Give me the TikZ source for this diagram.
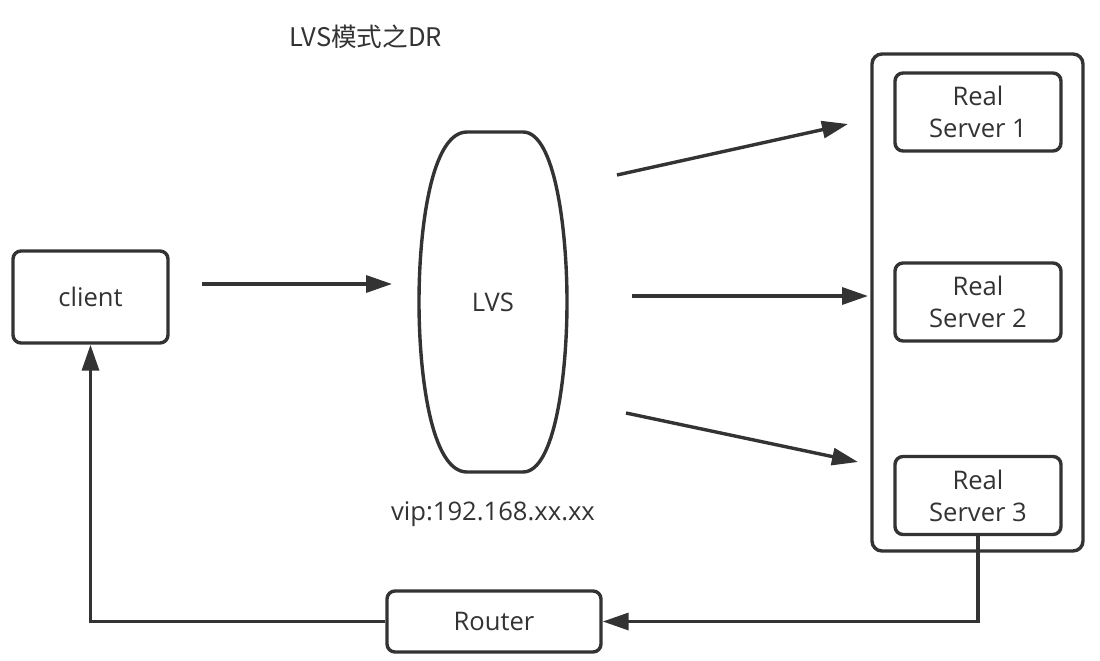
\documentclass[tikz,border=0pt]{standalone}
\usepackage{fontspec}
\setmainfont{Open Sans}
\newfontfamily\cjk{Noto Sans CJK SC}
\usetikzlibrary{arrows.meta}
\definecolor{ink}{HTML}{333333}
\begin{document}
\begin{tikzpicture}[x=1pt,y=-1pt]
\tikzset{
  txt/.style={text=ink, font=\fontsize{25.6}{32}\selectfont, inner sep=0pt, align=center},
  box/.style={txt, draw=ink, line width=3.4pt, rounded corners=8pt},
  conn/.style={draw=ink, line width=3.4pt, -{Triangle[length=26pt,width=17pt]}},
  wire/.style={draw=ink, line width=3.4pt}
}
\fill[white] (0,0) rectangle (1100,661);
\useasboundingbox (0,0) rectangle (1100,661);

% title and label
\node[txt] (title) at (366,37) {\cjk LVS模式之DR};
\node[txt] (vip) at (493,514) {vip:192.168.xx.xx};

% client
\node[box, minimum width=155pt, minimum height=92pt] (client) at (90.5,297) {client};

% LVS
\node[txt, minimum width=148pt, minimum height=340pt] (lvs) at (493,302) {LVS};
\draw[wire] (467,132) -- (523,132)
  .. controls (555,132) and (567,230) .. (567,302)
  .. controls (567,374) and (555,472) .. (523,472)
  -- (467,472)
  .. controls (431,472) and (419,374) .. (419,302)
  .. controls (419,230) and (431,132) .. (467,132) -- cycle;

% server pool
\node[box, rounded corners=10pt, minimum width=211pt, minimum height=497pt] (pool) at (977.5,302.5) {};
\node[box, minimum width=166pt, minimum height=78pt] (rs1) at (978,112) {Real\\Server 1};
\node[box, minimum width=166pt, minimum height=78pt] (rs2) at (978,302) {Real\\Server 2};
\node[box, minimum width=166pt, minimum height=78pt] (rs3) at (978,495.5) {Real\\Server 3};

% router
\node[box, minimum width=214pt, minimum height=61pt] (router) at (494,621.5) {Router};

% connectors
\coordinate (c1) at (202,284);
\coordinate (c2) at (392,284);
\draw[conn] (c1) -- (c2);

\coordinate (l1s) at (617,175);
\coordinate (l1e) at (848,124);
\draw[conn] (l1s) -- (l1e);
\coordinate (l2s) at (632,296);
\coordinate (l2e) at (868,296);
\draw[conn] (l2s) -- (l2e);
\coordinate (l3s) at (626,413);
\coordinate (l3e) at (858,462);
\draw[conn] (l3s) -- (l3e);

\draw[conn] (rs3.south) -- (rs3.south |- router.east) -- (router.east);
\draw[conn] (router.west) -- (client.south |- router.west) -- (client.south);
\end{tikzpicture}
\end{document}
